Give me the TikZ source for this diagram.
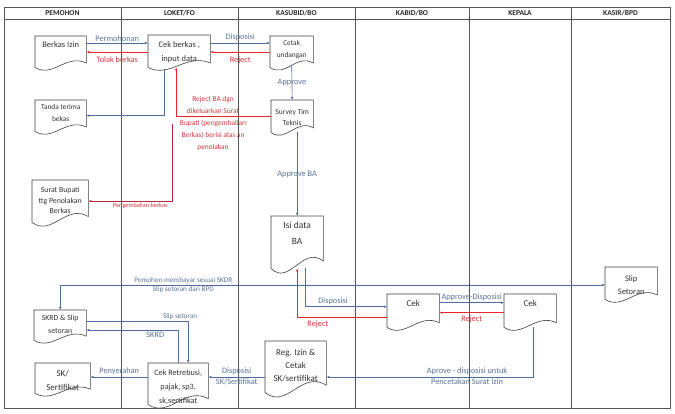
\documentclass[tikz,border=0pt]{standalone}
\usepackage{fontspec}
\setmainfont{Carlito}
\usetikzlibrary{arrows.meta,calc}
\definecolor{lblue}{HTML}{4F6D9A}
\definecolor{tblue}{HTML}{5B7396}
\definecolor{lred}{HTML}{E8262A}
\definecolor{tred}{HTML}{D2363C}
\definecolor{dred}{HTML}{B8283C}
\definecolor{framec}{HTML}{555555}
\tikzset{
 frameline/.style={draw=framec, line width=0.6pt},
 hdr/.style={font=\fontsize{7.5}{8}\selectfont\bfseries, text=black!85, inner sep=0pt},
 docbox/.style={draw=none, rectangle, inner sep=0pt},
 docline/.style={draw=black!75, line width=0.6pt, fill=white},
 doctext/.style={align=center, inner sep=0pt, text=black!80},
 bl/.style={draw=lblue, line width=0.6pt, -{Latex[length=3pt,width=2.6pt]}},
 blboth/.style={draw=lblue, line width=0.6pt, {Latex[length=3pt,width=2.6pt]}-{Latex[length=3pt,width=2.6pt]}},
 rd/.style={draw=lred, line width=0.7pt, -{Latex[length=3pt,width=2.6pt]}},
 rdd/.style={draw=dred, line width=0.6pt, -{Latex[length=3pt,width=2.6pt]}},
 lb/.style={text=tblue, inner sep=1.5pt, font=\fontsize{8.3}{9}\selectfont},
 lbs/.style={text=tblue, inner sep=1.2pt, font=\fontsize{7.2}{8}\selectfont},
 lr/.style={text=tred, inner sep=1.5pt, font=\fontsize{8.3}{9}\selectfont},
}
% name, x, ytop, width, height(left side), text offset, font, text
\newcommand\dnode[8]{%
  \node[docbox, minimum width=#4pt, minimum height=#5pt, anchor=north west] (#1) at (#2,#3) {};
  \draw[docline] (#1.south west) -- (#1.north west) -- (#1.north east) -- ([yshift={#5*0.14pt}]#1.south east)
    .. controls ([xshift={-#4*0.4pt}, yshift={#5*0.45pt}]#1.south east) and ([xshift={#4*0.35pt}, yshift={-#5*0.35pt}]#1.south west) .. (#1.south west);
  \node[doctext, font={#7}, anchor=north] (#1-t) at ([yshift={-#6pt}]#1.north) {#8};
}
\begin{document}
\begin{tikzpicture}[x=1pt,y=-1pt]
\useasboundingbox (0,0) rectangle (675,414);
% frame
\draw[frameline] (4,7) rectangle (670,408);
\draw[frameline] (4,19) -- (670,19);
\foreach \xx in {121,238,355,469,571} \draw[frameline] (\xx,7) -- (\xx,408);
\node[hdr] (h1) at (62.5,13) {PEMOHON};
\node[hdr] (h2) at (179.5,13) {LOKET/FO};
\node[hdr] (h3) at (296.5,13) {KASUBID/BO};
\node[hdr] (h4) at (412,13) {KABID/BO};
\node[hdr] (h5) at (520,13) {KEPALA};
\node[hdr] (h6) at (620.5,13) {KASIR/BPD};
% row levels
\coordinate (r43) at (0,43);
\coordinate (r52) at (0,52);
\coordinate (r285) at (0,285);
\coordinate (r321) at (0,321);
\coordinate (r330) at (0,330);
\coordinate (r377) at (0,377);
\coordinate (pb) at (172,124);
% documents
\dnode{berkas}{35}{36}{51}{31}{5}{\fontsize{8.5}{10}\selectfont}{Berkas Izin}
\dnode{cek}{148}{35}{62}{32}{6}{\fontsize{8.5}{14}\selectfont}{Cek berkas ,\\input data}
\dnode{cetak}{270}{36}{43}{31}{4.6}{\fontsize{7.4}{11.5}\selectfont}{Cetak\\undangan}
\dnode{tanda}{35}{100}{51}{31}{4.6}{\fontsize{7.4}{12}\selectfont}{Tanda terima\\bekas}
\dnode{survey}{271}{100}{42}{32}{9.5}{\fontsize{7.5}{11}\selectfont}{Survey Tim\\Teknis}
\dnode{surat}{32}{180}{56}{42}{7.4}{\fontsize{7.8}{10.5}\selectfont}{Surat Bupati\\ttg Penolakan\\Berkas}
\dnode{isi}{271}{216}{52}{52}{5.9}{\fontsize{9.5}{16}\selectfont}{Isi data\\BA}
\dnode{cek1}{387}{294}{52}{33}{6}{\fontsize{9}{10}\selectfont}{Cek}
\dnode{cek2}{504}{294}{52}{33}{6}{\fontsize{9}{10}\selectfont}{Cek}
\dnode{slip}{605}{267}{52}{32}{8.2}{\fontsize{8.5}{13}\selectfont}{Slip\\Setoran}
\dnode{skrd}{34}{310}{52}{30}{4.4}{\fontsize{7.8}{13}\selectfont}{SKRD \& Slip\\setoran}
\dnode{sk}{35}{363}{55}{30}{7}{\fontsize{9}{14}\selectfont}{SK/\\Sertifikat}
\dnode{retr}{148}{363}{60}{41}{6.3}{\fontsize{8.2}{14}\selectfont}{Cek Retrebusi,\\pajak, sp3,\\sk,sertifikat}
\dnode{reg}{265}{341}{61}{51}{8}{\fontsize{9}{13}\selectfont}{Reg. Izin \&\\Cetak\\SK/sertifikat}
% connectors
\draw[bl] (berkas.east |- r43) -- node[lb, above] (l1) {Permohonan} (cek.west |- r43);
\draw[rd] (cek.west |- r52) -- node[lr, below=2.5pt] (l2) {Tolak berkas} (berkas.east |- r52);
\draw[bl] (cek.east |- r43) -- node[lb, above] (l3) {Disposisi} (cetak.west |- r43);
\draw[rd] (cetak.west |- r52) -- node[lr, below=2.5pt] (l4) {Reject} (cek.east |- r52);
\draw[bl] ([yshift=2pt]cetak.south) -- node[lb] (l5) {Approve} (survey.north);
\draw[bl] ([xshift=-15pt,yshift=-2pt]cek.south) |- (tanda.east);
\draw[rd] (survey.west) -| ([xshift=-3pt]cek.south);
\node[text=tred, font=\fontsize{7.4}{12.2}\selectfont, align=center, inner sep=0pt] (l6) at (213,123.5)
  {Reject BA dgn\\dikeluarkan Surat\\Bupati (pengembalian\\Berkas) berisi alas an\\penolakan};
\draw[rdd] (pb) |- node[pos=0.69, below, text=tred, font=\fontsize{6.3}{7}\selectfont, inner sep=1.5pt] (l7) {Pengembalian berkas} (surat.east);
\draw[bl] (isi.north |- survey.south) -- node[lb, inner sep=0.5pt] (l8) {Approve BA} (isi.north);
\draw[bl] ([xshift=8pt]isi.south) |- node[lb, pos=0.67, above] (l9) {Disposisi} ([yshift=4pt]cek1.west);
\draw[rd] ([yshift=-7pt]cek1.west) -| node[lr, pos=0.385, below=1pt] (l10) {Reject} (isi.south);
\draw[bl] ([yshift=8pt]cek1.east) -- node[lb, above] (l11) {Approve-Disposisi} ([yshift=8pt]cek2.west);
\draw[rd] ([yshift=-2pt]cek2.west) -- node[lr, below=1pt] (l12) {Reject} ([yshift=-2pt]cek1.east);
\draw[bl] ([xshift=3pt]cek2.south) |- node[lb, pos=0.66, above] (l13) {Aprove - disposisi untuk}
   node[lb, pos=0.66, below] (l14) {Pencetakan Surat Izin} (reg.east |- r377);
\draw[bl] (reg.west |- r377) -- node[lb, above] (l15) {Disposisi} node[lb, below] (l16) {SK/Sertifikat} (retr.east |- r377);
\draw[bl] (retr.west |- r377) -- node[lb, above] (l17) {Penyerahan} (sk.east |- r377);
\draw[bl] (skrd.east |- r321) -| node[lbs, pos=0.46, above] (l18) {Slip setoran} ([xshift=10pt]retr.north);
\draw[bl] (retr.north) |- node[lb, pos=0.625, below] (l19) {SKRD} (skrd.east |- r330);
\draw[blboth] (skrd.north) |- node[lbs, pos=0.613, above] (l20) {Pemohon membayar sesuai SKDR}
   node[lbs, pos=0.613, below] (l21) {Slip setoran dari BPD} (slip.west |- r285);
\end{tikzpicture}
\end{document}
